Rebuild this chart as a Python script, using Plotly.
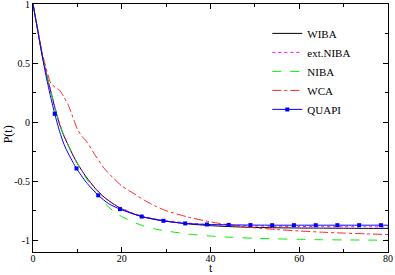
import plotly.graph_objects as go

# ---- data ----
T = [0, 1, 2, 3, 4, 5, 6, 7, 8, 9, 10, 11, 12, 14, 16, 18, 20, 22.5, 25, 27.5,
     30, 35, 40, 45, 50, 55, 60, 65, 70, 75, 80]
WIBA = [1, 0.79, 0.58, 0.41, 0.26, 0.11, -0.02, -0.12, -0.20, -0.28, -0.35, -0.41,
        -0.465, -0.56, -0.635, -0.69, -0.735, -0.775, -0.805, -0.825,
        -0.84, -0.862, -0.877, -0.886, -0.892, -0.895, -0.897, -0.898, -0.899, -0.90, -0.90]
EXT_NIBA = [1, 0.79, 0.585, 0.415, 0.265, 0.12, -0.01, -0.115, -0.20, -0.28, -0.35, -0.41,
            -0.465, -0.56, -0.635, -0.69, -0.73, -0.77, -0.80, -0.82,
            -0.835, -0.855, -0.868, -0.875, -0.88, -0.882, -0.884, -0.885, -0.886, -0.886, -0.887]
NIBA = [1, 0.79, 0.58, 0.41, 0.26, 0.11, -0.02, -0.12, -0.20, -0.28, -0.35, -0.415,
        -0.475, -0.59, -0.68, -0.75, -0.80, -0.845, -0.88, -0.905,
        -0.922, -0.948, -0.965, -0.976, -0.984, -0.989, -0.993, -0.996, -0.998, -0.999, -1.0]
WCA = [1, 0.80, 0.60, 0.45, 0.33, 0.295, 0.27, 0.21, 0.14, 0.04, -0.06, -0.12,
       -0.16, -0.28, -0.39, -0.47, -0.54, -0.60, -0.66, -0.71,
       -0.75, -0.805, -0.845, -0.875, -0.895, -0.91, -0.922, -0.932, -0.94, -0.946, -0.952]

T_QUAPI = [0, 1, 2, 3, 4, 4.9, 6, 7, 8, 9, 9.8, 12, 14.7, 17, 19.6, 24.5, 29.4, 34.3,
           39.2, 44.1, 49, 53.9, 58.8, 63.7, 68.6, 73.5, 78.4, 80]
QUAPI = [1, 0.79, 0.575, 0.38, 0.21, 0.07, -0.08, -0.19, -0.27, -0.34, -0.393, -0.51,
         -0.62, -0.69, -0.737, -0.80, -0.836, -0.858, -0.867, -0.87, -0.872, -0.873,
         -0.873, -0.873, -0.873, -0.873, -0.873, -0.873]
QUAPI_MARK_T = [4.9, 9.8, 14.7, 19.6, 24.5, 29.4, 34.3, 39.2, 44.1, 49, 53.9, 58.8,
                63.7, 68.6, 73.5, 78.4]

X_TICKS = [0, 20, 40, 60, 80]
Y_TICKS = [1, 0.5, 0, -0.5, -1]
Y_TICK_TEXT = ["1", "0.5", "0", "-0.5", "-1"]

SERIF = "Liberation Serif, Times New Roman, serif"

fig = go.Figure()
sp = dict(shape="spline", smoothing=0.6)

fig.add_trace(go.Scatter(x=T, y=WIBA, mode="lines", name="WIBA",
                         line=dict(color="black", width=1, **sp)))
fig.add_trace(go.Scatter(x=T, y=EXT_NIBA, mode="lines", name="ext.NIBA",
                         line=dict(color="#ff00ff", width=1, dash="dot", **sp)))
fig.add_trace(go.Scatter(x=T, y=NIBA, mode="lines", name="NIBA",
                         line=dict(color="#00ee00", width=1, dash="dash", **sp)))
fig.add_trace(go.Scatter(x=T, y=WCA, mode="lines", name="WCA",
                         line=dict(color="#ff2020", width=1, dash="dashdot", **sp)))
fig.add_trace(go.Scatter(x=T_QUAPI, y=QUAPI, mode="lines", name="QUAPI",
                         showlegend=False, legendgroup="q",
                         line=dict(color="#0000ff", width=1, **sp)))
mark_y = [QUAPI[T_QUAPI.index(t)] for t in QUAPI_MARK_T]
fig.add_trace(go.Scatter(x=QUAPI_MARK_T, y=mark_y, mode="markers", name="QUAPI",
                         showlegend=False, legendgroup="q",
                         marker=dict(color="#0000ff", size=4, symbol="square")))
fig.add_trace(go.Scatter(x=[None], y=[None], mode="lines+markers", name="QUAPI",
                         legendgroup="q",
                         line=dict(color="#0000ff", width=1),
                         marker=dict(color="#0000ff", size=4, symbol="square")))

axis_common = dict(showline=True, linecolor="black", linewidth=1, mirror="ticks",
                   ticks="inside", ticklen=5, tickcolor="black", tickwidth=1,
                   showgrid=False, zeroline=False, automargin=False,
                   ticklabeloverflow="allow",
                   tickfont=dict(family=SERIF, size=10, color="black"))

fig.update_xaxes(range=[0, 80], tickvals=X_TICKS, ticklabelstandoff=-3,
                 minor=dict(dtick=10, ticks="inside", ticklen=3, tickcolor="black"),
                 **axis_common)
fig.update_yaxes(range=[-1.1, 1.0], tickvals=Y_TICKS, ticktext=Y_TICK_TEXT,
                 minor=dict(dtick=0.25, ticks="inside", ticklen=3, tickcolor="black"),
                 **axis_common)

fig.update_layout(
    width=395, height=275,
    margin=dict(l=33, r=7, t=4, b=23),
    paper_bgcolor="white", plot_bgcolor="white",
    showlegend=True,
    legend=dict(x=0.66, y=0.94, xanchor="left", yanchor="top",
                bgcolor="rgba(0,0,0,0)", borderwidth=0,
                font=dict(family=SERIF, size=11, color="black"),
                itemwidth=30, tracegroupgap=0),
    annotations=[
        dict(text="P(t)", xref="paper", yref="paper", x=-0.07, y=0.475,
             xanchor="center", yanchor="middle", textangle=-90, showarrow=False,
             font=dict(family=SERIF, size=12, color="black")),
        dict(text="t", xref="paper", yref="paper", x=0.5, y=-23 / 248,
             xanchor="center", yanchor="bottom", height=10, showarrow=False,
             font=dict(family=SERIF, size=12, color="black")),
    ],
)

fig.write_html("out.html", config={"displayModeBar": False},
               post_script="document.body.style.margin='0';document.body.style.overflow='hidden';")
